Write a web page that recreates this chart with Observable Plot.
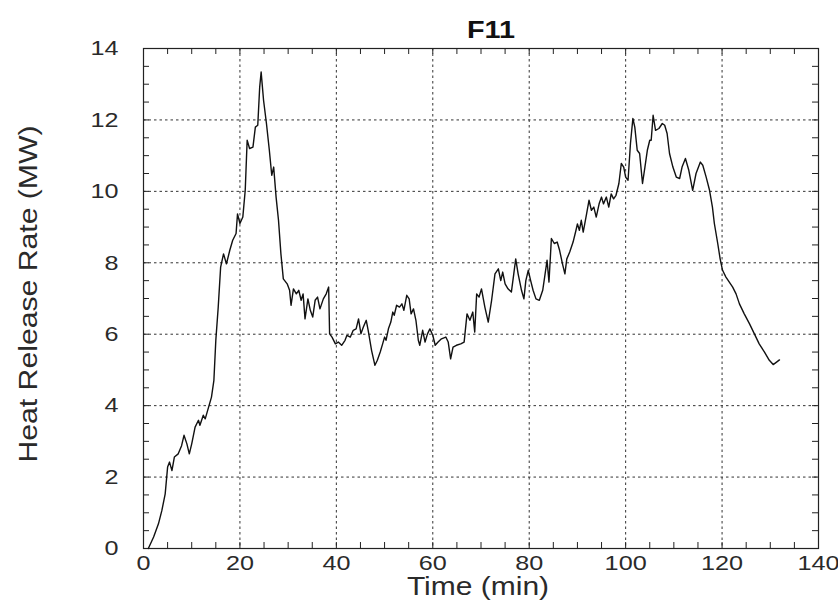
<!DOCTYPE html>
<html>
<head>
<meta charset="utf-8">
<script src="https://cdn.jsdelivr.net/npm/d3@7"></script>
<script src="https://cdn.jsdelivr.net/npm/@observablehq/plot@0.6"></script>
<style>
  html, body { margin: 0; padding: 0; background: #fff; }
  #chart svg { display: block; overflow: visible; }
</style>
</head>
<body>
<div id="chart"></div>
<script>
// ---- data (F11 heat release rate) ----
const title = "F11";
const xLabel = "Time (min)";
const yLabel = "Heat Release Rate (MW)";

const timeMin = [1.0,2.1,3.1,3.8,4.5,5.0,5.4,5.9,6.4,7.2,7.9,8.4,9.0,9.5,10.0,10.7,11.4,11.7,12.4,12.8,13.5,14.1,14.6,15.0,15.5,16.0,16.6,17.2,17.9,18.5,19.2,19.5,20.0,20.6,21.1,21.5,22.0,22.7,23.2,23.7,24.1,24.4,24.9,25.5,26.1,26.6,27.0,27.5,28.0,28.5,29.0,29.8,30.3,30.6,31.1,31.7,32.2,32.7,33.1,33.5,34.1,34.6,35.1,35.6,36.1,36.6,37.3,37.9,38.4,38.6,39.1,39.8,40.4,41.1,41.8,42.2,42.9,43.5,44.1,44.6,45.1,45.6,46.2,46.6,47.3,48.0,48.5,49.1,49.6,50.0,50.3,50.8,51.3,51.7,52.0,52.5,53.1,53.6,54.0,54.6,55.1,55.5,56.0,56.5,57.0,57.3,57.9,58.4,58.9,59.4,60.0,60.5,61.1,61.8,62.7,63.2,63.7,64.2,64.9,65.8,66.5,67.1,67.7,68.3,68.7,69.1,69.6,70.1,70.8,71.5,72.2,72.9,73.6,74.1,74.5,75.0,75.6,76.3,76.8,77.2,77.7,78.4,78.9,79.3,79.8,80.3,80.8,81.4,82.1,82.8,83.2,83.7,84.1,84.6,85.2,85.8,86.3,86.9,87.4,87.8,88.4,89.1,89.7,90.0,90.4,90.8,91.2,91.9,92.4,92.9,93.4,93.9,94.5,95.0,95.4,96.0,96.5,97.0,97.5,98.0,98.6,99.1,99.6,100.0,100.5,101.0,101.5,101.9,102.4,102.9,103.5,104.0,104.5,105.0,105.3,105.7,106.2,106.9,107.6,108.1,108.6,109.1,109.8,110.5,111.2,111.7,112.4,113.1,113.9,114.6,115.5,116.0,116.7,117.4,118.0,118.4,119.1,119.6,120.1,120.8,121.5,122.2,122.9,123.6,124.6,125.7,126.7,127.7,128.8,129.8,130.6,131.3,131.9];
const hrrMW = [0,0.32,0.69,1.06,1.53,2.28,2.42,2.18,2.56,2.65,2.88,3.17,2.93,2.65,2.93,3.40,3.59,3.45,3.73,3.63,3.96,4.24,4.71,5.83,6.76,7.88,8.25,7.97,8.35,8.63,8.82,9.37,9.10,9.28,10.03,11.43,11.20,11.24,11.80,11.85,12.92,13.34,12.55,11.90,11.15,10.45,10.68,9.84,9.19,8.25,7.55,7.41,7.23,6.81,7.27,7.13,7.23,6.95,7.13,6.43,6.99,6.67,6.48,6.95,7.04,6.71,6.99,7.13,7.32,6.01,5.92,5.73,5.78,5.69,5.83,5.97,5.92,6.11,6.15,6.43,6.01,6.20,6.39,6.11,5.55,5.13,5.27,5.50,5.73,5.92,5.83,6.15,6.34,6.62,6.53,6.81,6.76,6.85,6.67,7.09,6.99,6.57,6.71,6.39,5.83,5.69,6.11,5.78,6.01,6.15,5.97,5.69,5.78,5.87,5.92,5.78,5.31,5.64,5.69,5.73,5.78,6.57,6.39,6.62,6.06,7.13,7.04,7.27,6.76,6.34,6.95,7.69,7.83,7.50,7.74,7.41,7.27,7.18,7.69,8.11,7.69,7.23,6.99,7.50,7.79,7.50,7.23,6.99,6.95,7.23,7.60,8.07,7.46,8.68,8.54,8.58,8.35,7.97,7.69,8.11,8.30,8.58,8.91,9.09,8.91,9.19,8.86,9.37,9.75,9.47,9.56,9.28,9.65,9.84,9.65,9.84,9.56,9.93,9.79,9.89,10.22,10.78,10.68,10.40,10.31,11.34,12.04,11.80,11.15,11.06,10.22,10.68,11.15,11.43,11.43,12.13,11.71,11.76,11.90,11.85,11.62,11.06,10.68,10.40,10.36,10.68,10.92,10.59,10.03,10.50,10.82,10.73,10.40,10.03,9.56,9.10,8.54,8.11,7.79,7.60,7.46,7.32,7.13,6.85,6.57,6.29,6.01,5.73,5.50,5.27,5.15,5.22,5.28];

const xTicks = [0,20,40,60,80,100,120,140];
const yTicks = [0,2,4,6,8,10,12,14];
const xMinorTicks = d3.range(0, 141, 5);
const yMinorTicks = d3.range(0, 14.01, 0.5);
const xGrid = [20,40,60,80,100,120];
const yGrid = [2,4,6,8,10,12];

const series = timeMin.map((t, i) => ({t, v: hrrMW[i]}));

const W = 838, H = 610;
const mL = 143, mR = 20, mT = 48, mB = 62;
const innerH = H - mT - mB, innerW = W - mL - mR;
const tickLen = 6;
const font = "'Liberation Sans', Arial, Helvetica, sans-serif";
const txtColor = "#2a2a2a";

const chart = Plot.plot({
  width: W, height: H,
  marginLeft: mL, marginRight: mR, marginTop: mT, marginBottom: mB,
  style: {fontFamily: font, background: "#fff", color: txtColor},
  x: {domain: [0, 140], axis: null},
  y: {domain: [0, 14], axis: null},
  marks: [
    Plot.ruleX(xGrid, {stroke: "#333", strokeWidth: 1, strokeDasharray: "2.5,3"}),
    Plot.ruleY(yGrid, {stroke: "#333", strokeWidth: 1, strokeDasharray: "2.5,3"}),
    // inward minor ticks on all four sides
    Plot.ruleX(xMinorTicks, {stroke: "#222", insetTop: innerH - tickLen}),
    Plot.ruleX(xMinorTicks, {stroke: "#222", insetBottom: innerH - tickLen}),
    Plot.ruleY(yMinorTicks, {stroke: "#222", insetRight: innerW - tickLen}),
    Plot.ruleY(yMinorTicks, {stroke: "#222", insetLeft: innerW - tickLen}),
    Plot.frame({stroke: "#222", strokeWidth: 1.2}),
    Plot.line(series, {x: "t", y: "v", stroke: "#111", strokeWidth: 1.4, strokeLinejoin: "round"}),
    // tick labels
    Plot.text(xTicks, {x: d => d, frameAnchor: "bottom", dy: 21, text: d => String(d), fontSize: 21, fill: txtColor, className: "stretch"}),
    Plot.text(yTicks, {y: d => d, frameAnchor: "left", dx: -25, textAnchor: "end", text: d => String(d), fontSize: 21, fill: txtColor, className: "stretch"}),
    // axis titles
    Plot.text([xLabel], {frameAnchor: "bottom", dy: 46, dx: -3, text: d => d, fontSize: 25, fill: txtColor, className: "stretch"}),
    Plot.text([yLabel], {frameAnchor: "left", dx: -115, dy: 164, rotate: -90, textAnchor: "start", text: d => d, fontSize: 25, fill: txtColor, className: "ylab"}),
    Plot.text([title], {frameAnchor: "top", dy: -28, dx: 10, text: d => d, fontSize: 24, fontWeight: "bold", fill: "#111", className: "stretch"})
  ]
});

document.getElementById("chart").appendChild(chart);

// horizontally widen the text to match the reference's lettering
d3.select(chart).selectAll("g.stretch text").each(function() {
  const len = this.getComputedTextLength();
  this.setAttribute("textLength", (len * 1.2).toFixed(1));
  this.setAttribute("lengthAdjust", "spacingAndGlyphs");
});
d3.select(chart).selectAll("g.ylab text").each(function() {
  this.setAttribute("textLength", "337");
  this.setAttribute("lengthAdjust", "spacingAndGlyphs");
});
</script>
</body>
</html>
